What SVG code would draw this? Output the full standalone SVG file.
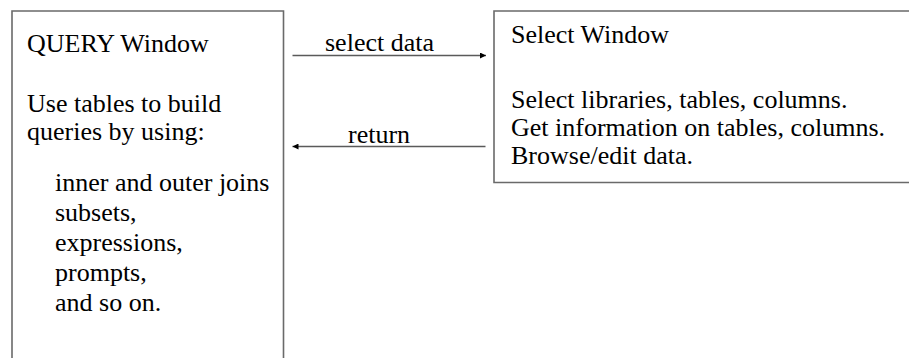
<svg xmlns="http://www.w3.org/2000/svg" width="909" height="358" viewBox="0 0 909 358">
<style>
.box{fill:#fff;stroke:#6a6a6a;stroke-width:1.6}
.t{font-family:"Liberation Serif","Times New Roman",serif;font-size:26px;fill:#000}
.c{stroke:#5a5a5a;stroke-width:1.4;fill:none}
</style>
<defs>
<marker id="ah" viewBox="0 0 10 10" refX="10" refY="5" markerWidth="9" markerHeight="6" markerUnits="userSpaceOnUse" orient="auto">
<path d="M0,0 L10,5 L0,10 z" fill="#000"/>
</marker>
</defs>
<rect width="909" height="358" fill="#fff"/>
<g id="query-window">
<path class="box" d="M12,360 V11 H283.5 V360"/>
<text class="t" x="27" y="52">QUERY Window</text>
<text class="t" x="27" y="112">Use tables to build</text>
<text class="t" x="27" y="140">queries by using:</text>
<text class="t" x="55" y="191">inner and outer joins</text>
<text class="t" x="55" y="221">subsets,</text>
<text class="t" x="55" y="251">expressions,</text>
<text class="t" x="55" y="281">prompts,</text>
<text class="t" x="55" y="311">and so on.</text>
</g>
<g id="select-window">
<path class="box" d="M912,11 H494 V182.5 H912"/>
<text class="t" x="511" y="43">Select Window</text>
<text class="t" x="511" y="108">Select libraries, tables, columns.</text>
<text class="t" x="511" y="136">Get information on tables, columns.</text>
<text class="t" x="511" y="164">Browse/edit data.</text>
</g>
<g id="connectors">
<line class="c" x1="292.5" y1="55.5" x2="486" y2="55.5" marker-end="url(#ah)"/>
<text class="t" x="325" y="51">select data</text>
<line class="c" x1="485.5" y1="146.5" x2="292.5" y2="146.5" marker-end="url(#ah)"/>
<text class="t" x="348" y="143">return</text>
</g>
</svg>
